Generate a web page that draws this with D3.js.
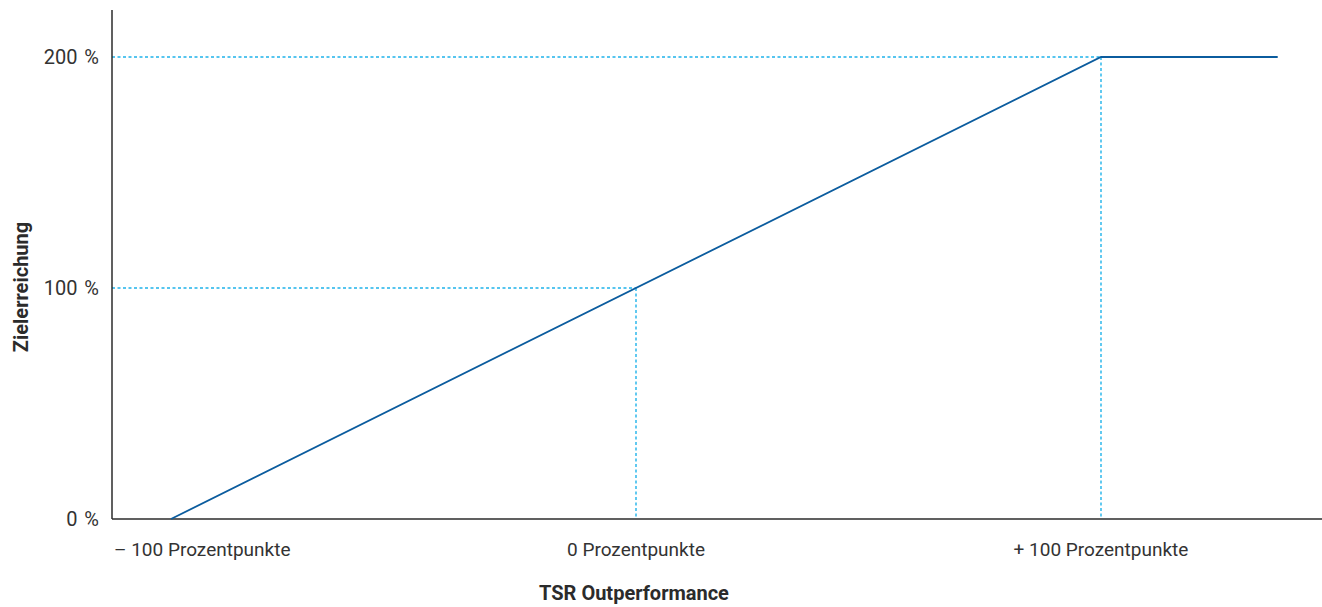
<!DOCTYPE html>
<html>
<head>
<meta charset="utf-8">
<script src="https://cdn.jsdelivr.net/npm/d3@7"></script>
<style>
  body { margin: 0; background: #fff; }
  svg { display: block; font-family: Roboto, "Noto Sans", sans-serif; }
</style>
</head>
<body>
<svg id="chart" width="1322" height="607"></svg>
<script>
// TSR outperformance (percentage points) vs. target achievement (%)
const curveX = [-100, 100, 138];
const curveY = [0, 200, 200];

const refX = [0, 100];          // dashed guides
const refY = [100, 200];

const xTicks = [-100, 0, 100];
const xTickLabels = ['\u2013 100 Prozentpunkte', '0 Prozentpunkte', '+ 100 Prozentpunkte'];
const yTicks = [0, 100, 200];
const yTickLabels = ['0 %', '100 %', '200 %'];

const xTitle = 'TSR Outperformance';
const yTitle = 'Zielerreichung';

const svg = d3.select('#chart');

const x = d3.scaleLinear().domain([-100, 100]).range([171, 1101]);
const y = d3.scaleLinear().domain([0, 200]).range([519, 57]);

const axisLeft = 112, axisRight = 1322, axisTop = 10;

// dashed guides
const guides = svg.append('g')
	.attr('stroke', '#1fb3ea')
	.attr('stroke-width', 1.4)
	.attr('stroke-dasharray', '3,2.5')
	.attr('fill', 'none');

refX.forEach((v, i) => {
	guides.append('line')
		.attr('x1', axisLeft).attr('x2', x(v))
		.attr('y1', y(refY[i])).attr('y2', y(refY[i]));
	guides.append('line')
		.attr('x1', x(v)).attr('x2', x(v))
		.attr('y1', y(refY[i])).attr('y2', y(0));
});

// axes
svg.append('line')
	.attr('x1', axisLeft).attr('x2', axisLeft)
	.attr('y1', axisTop).attr('y2', y(0))
	.attr('stroke', '#2b2b2b').attr('stroke-width', 1.5);
svg.append('line')
	.attr('x1', axisLeft).attr('x2', axisRight)
	.attr('y1', y(0)).attr('y2', y(0))
	.attr('stroke', '#2b2b2b').attr('stroke-width', 1.5);

// curve
const line = d3.line()
	.x((d, i) => x(curveX[i]))
	.y(d => y(d));

svg.append('path')
	.datum(curveY)
	.attr('d', line)
	.attr('fill', 'none')
	.attr('stroke', '#0b5c9e')
	.attr('stroke-width', 1.8);

// y tick labels
svg.append('g').selectAll('text')
	.data(yTicks)
	.join('text')
	.attr('x', 99)
	.attr('y', d => y(d))
	.attr('dy', '0.35em')
	.attr('text-anchor', 'end')
	.attr('font-size', 20)
	.attr('word-spacing', 2)
	.attr('fill', '#333')
	.text((d, i) => yTickLabels[i]);

// x tick labels (first one left-aligned at the axis start)
svg.append('g').selectAll('text')
	.data(xTicks)
	.join('text')
	.attr('x', (d, i) => i === 0 ? axisLeft + 2 : x(d))
	.attr('y', 556)
	.attr('text-anchor', (d, i) => i === 0 ? 'start' : 'middle')
	.attr('font-size', 19)
	.attr('fill', '#333')
	.text((d, i) => xTickLabels[i]);

// axis titles
svg.append('text')
	.attr('x', 634).attr('y', 600)
	.attr('text-anchor', 'middle')
	.attr('font-size', 20)
	.attr('font-weight', 'bold')
	.attr('fill', '#2b2b2b')
	.text(xTitle);

svg.append('text')
	.attr('transform', 'translate(28,287) rotate(-90)')
	.attr('text-anchor', 'middle')
	.attr('font-size', 20)
	.attr('font-weight', 'bold')
	.attr('fill', '#2b2b2b')
	.text(yTitle);
</script>
</body>
</html>
